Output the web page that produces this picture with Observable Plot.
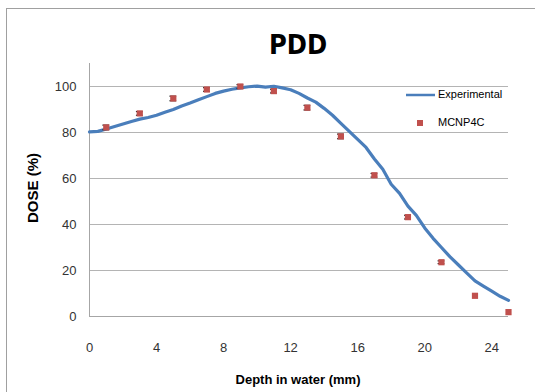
<!DOCTYPE html>
<html>
<head>
<meta charset="utf-8">
<script src="https://cdn.jsdelivr.net/npm/d3@7"></script>
<script src="https://cdn.jsdelivr.net/npm/@observablehq/plot@0.6"></script>
<style>
  html, body { margin: 0; padding: 0; background: #fff; }
  svg { display: block; }
</style>
</head>
<body>
<div id="chart"></div>
<script>
// ---- data ----
const titleText = "PDD";
const xLabel = "Depth in water (mm)";
const yLabel = "DOSE (%)";
const seriesNames = ["Experimental", "MCNP4C"];

const xTicks = [0, 4, 8, 12, 16, 20, 24];
const yTicks = [0, 20, 40, 60, 80, 100];

// Experimental curve
const depthExp = [0, 0.5, 1, 1.5, 2, 2.5, 3, 3.5, 4, 4.5, 5, 5.5, 6, 6.5, 7, 7.5, 8, 8.5, 9, 9.5,
  10, 10.5, 11, 11.5, 12, 12.5, 13, 13.5, 14, 14.5, 15, 15.5, 16, 16.5, 17, 17.5, 18, 18.5, 19, 19.5,
  20, 20.5, 21, 21.5, 22, 22.5, 23, 23.5, 24, 24.5, 25];
const doseExp = [80.3, 80.5, 81.5, 82.6, 83.7, 84.8, 85.8, 86.5, 87.5, 88.8, 90.0, 91.5, 92.8, 94.2, 95.6, 97.0, 98.0, 98.8, 99.4, 99.9,
  100.2, 99.7, 100.1, 99.4, 98.6, 97.0, 95.0, 93.2, 90.5, 87.5, 84.0, 80.5, 77.0, 73.5, 68.5, 64.0, 57.5, 53.5, 48.0, 44.0,
  38.5, 34.0, 30.0, 26.0, 22.5, 19.0, 15.5, 13.2, 11.0, 8.8, 7.0];

// MCNP4C points with error bars
const depthMC = [1, 3, 5, 7, 9, 11, 13, 15, 17, 19, 21, 23, 25];
const doseMC = [82.2, 88.3, 94.8, 98.7, 100.0, 98.0, 90.8, 78.3, 61.4, 43.2, 23.6, 9.0, 1.9];
const errMC = [1.0, 0.8, 1.0, 0.8, 0.8, 0.8, 1.0, 1.0, 0.8, 0.8, 0.6, 0, 0];

const expData = depthExp.map((x, i) => ({x, y: doseExp[i]}));
const mcData = depthMC.map((x, i) => ({x, y: doseMC[i], e: errMC[i]}));

const blue = "#4a7ebb";
const red = "#c0504d";
const gridGray = "#b4b4b4";
const font = "'Liberation Sans', Arial, sans-serif";

const svg = Plot.plot({
  width: 535,
  height: 392,
  marginLeft: 89,
  marginRight: 27,
  marginTop: 63,
  marginBottom: 76,
  style: {fontFamily: font, fontSize: "13px", color: "#333", background: "#fff"},
  x: {domain: [0, 25]},
  y: {domain: [0, 110]},
  marks: [
    Plot.gridY(yTicks.filter(v => v > 0), {stroke: gridGray, strokeOpacity: 1}),
    Plot.ruleY([0], {stroke: "#a6a6a6"}),
    Plot.ruleX([0], {stroke: "#a6a6a6"}),
    Plot.axisX({ticks: xTicks, tickSize: 0, tickPadding: 26, label: null, fontSize: 13}),
    Plot.axisY({ticks: yTicks, tickSize: 0, tickPadding: 13, label: null, fontSize: 13}),
    Plot.line(expData, {x: "x", y: "y", stroke: blue, strokeWidth: 3.2}),
    Plot.ruleY(mcData.filter(d => d.e > 0), {y: d => d.y + d.e, x1: d => d.x - 0.2, x2: d => d.x + 0.2, stroke: "#222", strokeWidth: 1.2}),
    Plot.ruleY(mcData.filter(d => d.e > 0), {y: d => d.y - d.e, x1: d => d.x - 0.2, x2: d => d.x + 0.2, stroke: "#222", strokeWidth: 1.2}),
    Plot.dot(mcData, {x: "x", y: "y", symbol: "square", r: 3.5, fill: red, stroke: "none"})
  ]
});

const s = d3.select(svg);
// outer chart border
s.insert("rect", ":first-child")
  .attr("x", 6.5).attr("y", 8.5).attr("width", 560).attr("height", 420)
  .attr("fill", "none").attr("stroke", "#a0a0a0");

// title
s.append("text").text(titleText)
  .attr("x", 298).attr("y", 54).attr("text-anchor", "middle")
  .attr("font-family", "'Liberation Sans Narrow', 'DejaVu Sans Condensed', sans-serif")
  .attr("font-weight", "bold").attr("font-size", 27).attr("fill", "#000");

// axis titles
s.append("text").text(xLabel)
  .attr("x", 298).attr("y", 381).attr("text-anchor", "middle").attr("dominant-baseline", "middle")
  .attr("font-family", font).attr("font-weight", "bold").attr("font-size", 13).attr("fill", "#000");
s.append("text").text(yLabel)
  .attr("transform", "translate(34,188) rotate(-90)").attr("text-anchor", "middle").attr("dominant-baseline", "middle")
  .attr("font-family", font).attr("font-weight", "bold").attr("font-size", 15).attr("fill", "#000");

// legend
const lg = s.append("g").attr("font-family", font).attr("font-size", 11).attr("fill", "#000").attr("text-anchor", "start");
lg.append("line").attr("x1", 406).attr("x2", 435).attr("y1", 95).attr("y2", 95)
  .attr("stroke", blue).attr("stroke-width", 2.5);
lg.append("text").text(seriesNames[0]).attr("x", 438).attr("y", 95).attr("dominant-baseline", "middle").attr("text-anchor", "start");
lg.append("rect").attr("x", 417).attr("y", 120).attr("width", 6).attr("height", 6).attr("fill", red);
lg.append("text").text(seriesNames[1]).attr("x", 438).attr("y", 123).attr("dominant-baseline", "middle").attr("text-anchor", "start");

document.getElementById("chart").appendChild(svg);
</script>
</body>
</html>
